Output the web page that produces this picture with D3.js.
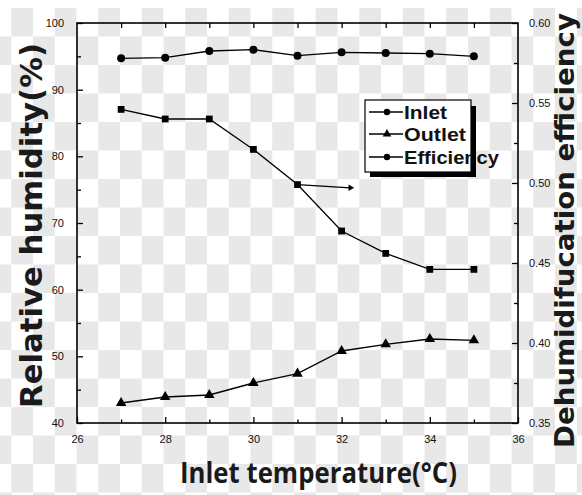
<!DOCTYPE html>
<html>
<head>
<meta charset="utf-8">
<script src="https://cdn.jsdelivr.net/npm/d3@7"></script>
<style>
  html, body { margin: 0; padding: 0; background: #fff; }
  svg { display: block; }
</style>
</head>
<body>
<svg id="chart" width="582" height="495"></svg>
<script>
// Inlet temperature (°C) for each measurement
const temperatures = [27, 28, 29, 30, 31, 32, 33, 34, 35];
// Relative humidity (%) at inlet and outlet – left axis
const inletRH = [94.7, 94.8, 95.8, 96.0, 95.1, 95.6, 95.5, 95.4, 95.0];
const outletRH = [43.0, 43.9, 44.2, 46.0, 47.4, 50.8, 51.8, 52.6, 52.4];
// Dehumidification efficiency – right axis
const efficiency = [0.546, 0.540, 0.540, 0.521, 0.499, 0.470, 0.456, 0.446, 0.446];
// short leftover trace drawn from the 31 °C efficiency point
const traceX = [31, 32.2];
const traceEff = [0.499, 0.497];

const xTicks = [26, 28, 30, 32, 34, 36];
const leftTicks = [40, 50, 60, 70, 80, 90, 100];
const rightTicks = [0.35, 0.40, 0.45, 0.50, 0.55, 0.60];
const seriesNames = ["Inlet", "Outlet", "Efficiency"];

const svg = d3.select("#chart");
const W = 582, H = 495;
const plot = { left: 77, right: 518, top: 23, bottom: 423 };

// checkered backdrop
const cellW = 21.75, cellH = 28.5;
const pat = svg.append("defs").append("pattern")
  .attr("id", "checker").attr("patternUnits", "userSpaceOnUse")
  .attr("x", -10.5).attr("y", 8)
  .attr("width", cellW * 2).attr("height", cellH * 2);
pat.append("rect").attr("width", cellW * 2).attr("height", cellH * 2).attr("fill", "#ffffff");
pat.append("rect").attr("x", cellW).attr("y", 0).attr("width", cellW).attr("height", cellH).attr("fill", "#e8e8e8");
pat.append("rect").attr("x", 0).attr("y", cellH).attr("width", cellW).attr("height", cellH).attr("fill", "#e8e8e8");
svg.append("rect").attr("width", W).attr("height", H).attr("fill", "#fff");
svg.append("rect").attr("x", 0).attr("y", 8).attr("width", W).attr("height", H - 8).attr("fill", "url(#checker)");

const x = d3.scaleLinear().domain([26, 36]).range([plot.left, plot.right]);
const yL = d3.scaleLinear().domain([40, 100]).range([plot.bottom, plot.top]);
const yR = d3.scaleLinear().domain([0.35, 0.60]).range([plot.bottom, plot.top]);

const tickFont = "'Liberation Sans', Arial, sans-serif";

function styleAxis(g) {
  g.select(".domain").remove();
  g.selectAll("line").attr("stroke", "#000").attr("stroke-width", 1.3);
  g.selectAll("text").attr("font-family", tickFont).attr("font-size", 11).attr("fill", "#111");
}

// minor ticks
const xMinor = d3.range(27, 36, 2);
const lMinor = d3.range(45, 100, 10);
const rMinor = [0.375, 0.425, 0.475, 0.525, 0.575];

// bottom axis (inward ticks)
svg.append("g").attr("transform", `translate(0,${plot.bottom})`)
  .call(d3.axisBottom(x).tickValues(xTicks).tickSizeInner(-6).tickSizeOuter(0).tickPadding(12).tickFormat(d3.format("d")))
  .call(styleAxis);
svg.append("g").attr("transform", `translate(0,${plot.bottom})`)
  .call(d3.axisBottom(x).tickValues(xMinor).tickSizeInner(-3.5).tickSizeOuter(0).tickFormat(""))
  .call(styleAxis);
// top axis ticks
svg.append("g").attr("transform", `translate(0,${plot.top})`)
  .call(d3.axisTop(x).tickValues(d3.range(27, 36, 1)).tickSizeInner(-5).tickSizeOuter(0).tickFormat(""))
  .call(styleAxis);
// left axis
svg.append("g").attr("transform", `translate(${plot.left},0)`)
  .call(d3.axisLeft(yL).tickValues(leftTicks).tickSizeInner(-6).tickSizeOuter(0).tickPadding(13).tickFormat(d3.format("d")))
  .call(styleAxis);
svg.append("g").attr("transform", `translate(${plot.left},0)`)
  .call(d3.axisLeft(yL).tickValues(lMinor).tickSizeInner(-4).tickSizeOuter(0).tickFormat(""))
  .call(styleAxis);
// right axis
svg.append("g").attr("transform", `translate(${plot.right},0)`)
  .call(d3.axisRight(yR).tickValues(rightTicks).tickSizeInner(-6).tickSizeOuter(0).tickPadding(11).tickFormat(d3.format(".2f")))
  .call(styleAxis);
svg.append("g").attr("transform", `translate(${plot.right},0)`)
  .call(d3.axisRight(yR).tickValues(rMinor).tickSizeInner(-4).tickSizeOuter(0).tickFormat(""))
  .call(styleAxis);

// frame
svg.append("rect")
  .attr("x", plot.left).attr("y", plot.top)
  .attr("width", plot.right - plot.left).attr("height", plot.bottom - plot.top)
  .attr("fill", "none").attr("stroke", "#000").attr("stroke-width", 1.6);

// series
const sym = {
  circle: d3.symbol().type(d3.symbolCircle).size(50),
  triangle: d3.symbol().type(d3.symbolTriangle).size(48),
  square: d3.symbol().type(d3.symbolSquare).size(46)
};

function drawSeries(xs, ys, yScale, shape) {
  const pts = xs.map((t, i) => [x(t), yScale(ys[i])]);
  svg.append("path").attr("d", d3.line()(pts))
    .attr("fill", "none").attr("stroke", "#000").attr("stroke-width", 1.3);
  if (shape) {
    svg.append("g").selectAll("path").data(pts).join("path")
      .attr("transform", d => `translate(${d[0]},${d[1]})`)
      .attr("d", sym[shape]).attr("fill", "#000");
  }
}

drawSeries(temperatures, inletRH, yL, "circle");
drawSeries(temperatures, outletRH, yL, "triangle");
drawSeries(temperatures, efficiency, yR, "square");
drawSeries(traceX, traceEff, yR, null);
svg.append("path")
  .attr("transform", `translate(${x(traceX[1])},${yR(traceEff[1])}) rotate(90)`)
  .attr("d", d3.symbol().type(d3.symbolTriangle).size(18)).attr("fill", "#000");

// legend
const lg = svg.append("g");
const box = { x: 365, y: 100, w: 106, h: 72 };
lg.append("rect").attr("x", box.x).attr("y", box.y).attr("width", box.w).attr("height", box.h)
  .attr("fill", "#fff").attr("stroke", "#000").attr("stroke-width", 1.2);
const legendShapes = ["circle", "triangle", "circle"];
const legendRowY = [112, 134, 157];
const legendLens = [43, 62, 95];
seriesNames.forEach((name, i) => {
  const yy = legendRowY[i];
  lg.append("line").attr("x1", 369).attr("x2", 403).attr("y1", yy).attr("y2", yy)
    .attr("stroke", "#000").attr("stroke-width", 1.3);
  lg.append("path").attr("transform", `translate(387,${yy})`)
    .attr("d", d3.symbol().type(legendShapes[i] === "triangle" ? d3.symbolTriangle : d3.symbolCircle).size(32))
    .attr("fill", "#000");
  lg.append("text").attr("x", 404).attr("y", yy + 7)
    .attr("font-family", "'Liberation Sans', Arial, sans-serif").attr("font-weight", 700)
    .attr("font-size", 18).attr("fill", "#111")
    .attr("textLength", legendLens[i]).attr("lengthAdjust", "spacingAndGlyphs")
    .text(name);
});
// drop shadow of the legend box
lg.append("rect").attr("x", box.x + box.w).attr("y", box.y + 6).attr("width", 5).attr("height", box.h - 1).attr("fill", "#000");
lg.append("rect").attr("x", box.x + 5).attr("y", box.y + box.h).attr("width", box.w).attr("height", 5).attr("fill", "#000");

// axis titles
svg.append("text")
  .attr("transform", `translate(42,${(43 + 408) / 2}) rotate(-90)`)
  .attr("text-anchor", "middle")
  .attr("font-family", "'DejaVu Sans', Verdana, sans-serif").attr("font-weight", 700)
  .attr("font-size", 31).attr("fill", "#1a1a1a")
  .attr("textLength", 365).attr("lengthAdjust", "spacingAndGlyphs")
  .text("Relative humidity(%)");

svg.append("text")
  .attr("transform", `translate(574,${(13 + 448) / 2}) rotate(-90)`)
  .attr("text-anchor", "middle")
  .attr("font-family", "'DejaVu Sans', Verdana, sans-serif").attr("font-weight", 700)
  .attr("font-size", 27).attr("fill", "#1a1a1a")
  .attr("textLength", 435).attr("lengthAdjust", "spacingAndGlyphs")
  .text("Dehumidifucation efficiency");

svg.append("text")
  .attr("x", (180 + 457) / 2).attr("y", 483)
  .attr("text-anchor", "middle")
  .attr("font-family", "'Open Sans', sans-serif").attr("font-weight", 700)
  .attr("font-size", 29).attr("fill", "#1a1a1a")
  .attr("textLength", 277).attr("lengthAdjust", "spacingAndGlyphs")
  .text("Inlet temperature(°C)");
</script>
</body>
</html>
